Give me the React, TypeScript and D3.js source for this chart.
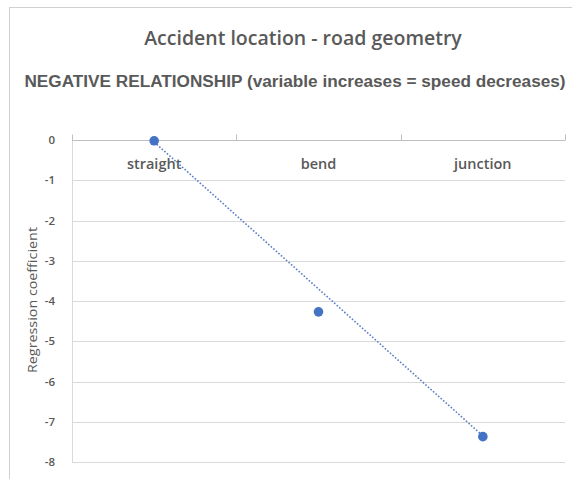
import { useEffect, useRef } from "react";
import * as d3 from "d3";

const categories = ["straight", "bend", "junction"];
const coefficients = [-0.02, -4.27, -7.37];
const yTicks = [0, -1, -2, -3, -4, -5, -6, -7, -8];
// dotted trend line, read at the first and last category
const trendCategories = ["straight", "junction"];
const trendValues = [-0.05, -7.35];

const chartTitle = "Accident location - road geometry";
const chartSubtitle = "NEGATIVE RELATIONSHIP (variable increases = speed decreases)";
const yTitle = "Regression coefficient";

const WIDTH = 572;
const HEIGHT = 479;
const textColor = "#595959";
const gridColor = "#d9d9d9";
const pointColor = "#4472c4";

const App = () => {
	const containerRef = useRef<HTMLDivElement>(null);

	useEffect(() => {
		if (!containerRef.current) {
			return;
		}
		const container = containerRef.current;

		const margin = { top: 140, right: 7, bottom: 17, left: 72 };
		const innerWidth = WIDTH - margin.left - margin.right;
		const innerHeight = HEIGHT - margin.top - margin.bottom;

		const svg = d3
			.select(container)
			.append("svg")
			.attr("width", WIDTH)
			.attr("height", HEIGHT)
			.style("position", "absolute")
			.style("left", "0px")
			.style("top", "0px")
			.style("background", "#ffffff");

		// outer chart border (right / bottom edges fall outside the picture)
		svg
			.append("rect")
			.attr("x", 9.5)
			.attr("y", 7.5)
			.attr("width", WIDTH + 20)
			.attr("height", HEIGHT + 20)
			.attr("fill", "#ffffff")
			.attr("stroke", "#d0d0d0")
			.attr("stroke-width", 1);

		svg
			.append("text")
			.attr("x", 303)
			.attr("y", 45)
			.attr("text-anchor", "middle")
			.attr("font-family", "'Open Sans', sans-serif")
			.attr("font-size", 19.5)
			.attr("font-weight", 600)
			.attr("fill", textColor)
			.text(chartTitle);

		svg
			.append("text")
			.attr("x", 295)
			.attr("y", 87)
			.attr("text-anchor", "middle")
			.attr("font-family", "'Liberation Sans', Arial, sans-serif")
			.attr("font-size", 17.2)
			.attr("font-weight", 600)
			.attr("fill", textColor)
			.text(chartSubtitle);

		const content = svg
			.append("g")
			.attr("transform", `translate(${margin.left},${margin.top})`);

		const xScale = d3.scaleBand().domain(categories).range([0, innerWidth]).padding(0);
		const yScale = d3.scaleLinear().domain([-8, 0]).range([innerHeight, 0]);

		// horizontal gridlines
		content
			.append("g")
			.selectAll("line")
			.data(yTicks.filter((t) => t !== 0))
			.join("line")
			.attr("x1", 0)
			.attr("x2", innerWidth)
			.attr("y1", (t) => Math.round(yScale(t)) + 0.5)
			.attr("y2", (t) => Math.round(yScale(t)) + 0.5)
			.attr("stroke", gridColor)
			.attr("stroke-width", 1);

		// left edge of plot
		content
			.append("line")
			.attr("x1", 0.5)
			.attr("x2", 0.5)
			.attr("y1", 0)
			.attr("y2", innerHeight)
			.attr("stroke", gridColor);

		// value axis labels
		content
			.append("g")
			.call(d3.axisLeft(yScale).tickValues(yTicks).tickSize(0).tickPadding(17).tickFormat((v) => `${v}`))
			.call((g) => g.select(".domain").remove())
			.selectAll("text")
			.attr("fill", textColor)
			.attr("font-family", "'Open Sans', sans-serif")
			.attr("font-size", 11.5)
			.attr("font-weight", 600);

		// category axis sits on y = 0 with ticks pointing up
		const xAxis = content
			.append("g")
			.attr("transform", `translate(0,${Math.round(yScale(0)) + 0.5})`);
		xAxis
			.append("line")
			.attr("x1", 0)
			.attr("x2", innerWidth)
			.attr("stroke", "#bfbfbf");
		const boundaries = [...categories.map((c) => xScale(c) ?? 0), innerWidth];
		xAxis
			.selectAll("line.tick")
			.data(boundaries)
			.join("line")
			.attr("class", "tick")
			.attr("x1", (b) => Math.round(b) + 0.5)
			.attr("x2", (b) => Math.round(b) + 0.5)
			.attr("y1", 0)
			.attr("y2", -6)
			.attr("stroke", "#bfbfbf");

		content
			.append("g")
			.selectAll("text")
			.data(categories)
			.join("text")
			.attr("x", (c) => (xScale(c) ?? 0) + xScale.bandwidth() / 2)
			.attr("y", 29)
			.attr("text-anchor", "middle")
			.attr("font-family", "'Open Sans', sans-serif")
			.attr("font-size", 14.5)
			.attr("font-weight", 600)
			.attr("fill", textColor)
			.text((c) => c);

		// dotted trend line
		const trendLine = d3
			.line<number>()
			.x((_, i) => (xScale(trendCategories[i]) ?? 0) + xScale.bandwidth() / 2)
			.y((v) => yScale(v));
		content
			.append("path")
			.datum(trendValues)
			.attr("d", trendLine)
			.attr("fill", "none")
			.attr("stroke", "#5b7fc7")
			.attr("stroke-width", 1.6)
			.attr("stroke-dasharray", "1.6 1.8");

		// points
		content
			.append("g")
			.selectAll("circle")
			.data(coefficients)
			.join("circle")
			.attr("cx", (_, i) => (xScale(categories[i]) ?? 0) + xScale.bandwidth() / 2)
			.attr("cy", (v) => yScale(v))
			.attr("r", 4.8)
			.attr("fill", pointColor);

		// value axis title
		svg
			.append("text")
			.attr("transform", "translate(37,300) rotate(-90)")
			.attr("text-anchor", "middle")
			.attr("font-family", "'Open Sans', sans-serif")
			.attr("font-size", 13.5)
			.attr("fill", textColor)
			.attr("textLength", 146)
			.attr("lengthAdjust", "spacingAndGlyphs")
			.text(yTitle);

		return () => {
			svg.remove();
		};
	}, []);

	return <div ref={containerRef} />;
};

export default App;
